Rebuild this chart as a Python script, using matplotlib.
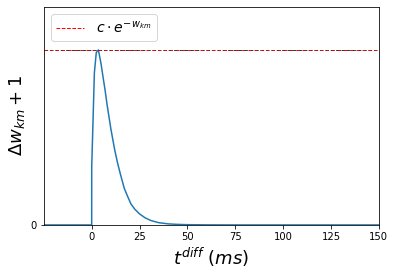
import matplotlib
matplotlib.use("Agg")
import matplotlib.pyplot as plt

t_ms = [-25, 0, 0.01, 1.4, 2.4, 3.5, 4.9, 6, 7, 8, 10, 12, 13.6, 15, 17, 18.5,
        20.5, 22.5, 25, 28, 31, 35, 40, 45, 50, 60, 80, 150]
dw = [0, 0, 0.33, 0.87, 0.985, 1.0, 0.92, 0.84, 0.77, 0.69, 0.55, 0.43, 0.35,
      0.29, 0.21, 0.17, 0.12, 0.09, 0.063, 0.04, 0.025, 0.013, 0.006, 0.003,
      0.0015, 0.0005, 0, 0]
bound = 1.0
x_ticks = [0, 25, 50, 75, 100, 125, 150]

fig = plt.figure(figsize=(395/72, 276/72), dpi=72)
ax = fig.add_axes([0.111, 0.185, 0.848, 0.79])
ax.plot(t_ms, dw, color='#1f77b4', lw=1.5)
ax.axhline(bound, color='#222222', ls=(0, (4, 2)), lw=0.9)
ax.axhline(bound, color='red', ls=(0, (3.7, 1.6)), lw=1.0, label=r'$c \cdot e^{-w_{km}}$')
ax.lines[-1].set_dashes([2.5, 3.5])
ax.set_xlim(-25, 150)
ax.set_ylim(0, 1.246)
ax.set_xticks(x_ticks)
ax.set_yticks([0])
ax.tick_params(labelsize=10)
ax.set_xlabel(r'$t^{diff}$ $(ms)$', fontsize=18)
ax.set_ylabel(r'$\Delta w_{km} + 1$', fontsize=18)
leg = ax.legend(loc='upper left', fontsize=14)
leg.get_lines()[0].set_linestyle('--')
fig.savefig('out.png', dpi=72)
